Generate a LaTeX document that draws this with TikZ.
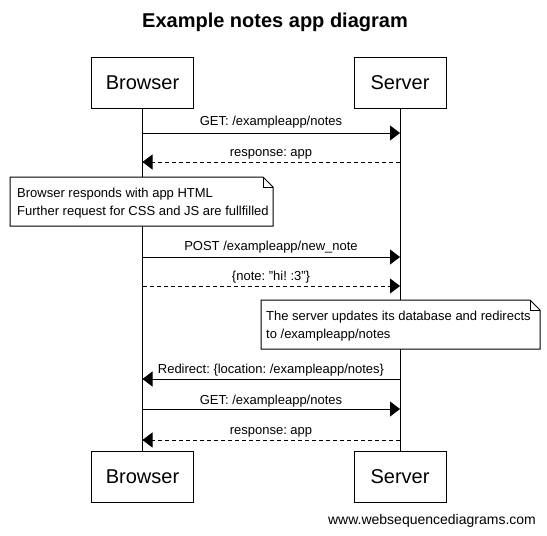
\documentclass[tikz,border=0pt]{standalone}
\usepackage{fontspec}
\setmainfont{Liberation Sans}
\usetikzlibrary{arrows.meta}
\frenchspacing
\begin{document}
\begin{tikzpicture}[x=1pt,y=-1pt,
  actor/.style={draw,line width=1pt,minimum height=51pt,font=\fontsize{20}{24}\selectfont,inner sep=0pt},
  lifeline/.style={line width=1pt},
  msg/.style={line width=1pt,-{Triangle[length=10pt,width=15pt]}},
  ret/.style={msg,dash pattern=on 4pt off 3pt},
  lbl/.style={font=\fontsize{13}{15}\selectfont,inner sep=0pt},
  notebox/.style={draw,line width=1pt,fill=white},
  notetext/.style={font=\fontsize{13}{18}\selectfont,align=left,inner sep=0pt,anchor=north west}
]
\useasboundingbox (0,0) rectangle (547,536);
\node[font=\bfseries\fontsize{20}{24}\selectfont] (title) at (275,22) {Example notes app diagram};
\node[actor, minimum width=102pt] (bt) at (142.5,82.5) {Browser};
\node[actor, minimum width=92pt] (st) at (400,82.5) {Server};
\node[actor, minimum width=102pt] (bb) at (142.5,477) {Browser};
\node[actor, minimum width=92pt] (sb) at (400,477) {Server};
\draw[lifeline] (bt) -- (bb);
\draw[lifeline] (st) -- (sb);
% lifeline points
\coordinate (b1) at (142.5,133); \coordinate (s1) at (400,133);
\coordinate (b2) at (142.5,162); \coordinate (s2) at (400,162);
\coordinate (b3) at (142.5,257); \coordinate (s3) at (400,257);
\coordinate (b4) at (142.5,286); \coordinate (s4) at (400,286);
\coordinate (b5) at (142.5,379); \coordinate (s5) at (400,379);
\coordinate (b6) at (142.5,409); \coordinate (s6) at (400,409);
\coordinate (b7) at (142.5,440); \coordinate (s7) at (400,440);
% messages
\draw[msg] (b1) -- (s1);
\node[lbl] (l1) at (271,122) {GET: /exampleapp/notes};
\draw[ret] (s2) -- (b2);
\node[lbl] (l2) at (271,154) {response: app};
% note 1
\draw[notebox] (10,177) -- (263,177) -- (273,187) -- (273,226) -- (10,226) -- cycle;
\draw[line width=1pt] (263,177) -- (263,187) -- (273,187);
\node[notetext] (n1) at (17,188) {Browser responds with app HTML\\Further request for CSS and JS are fullfilled};
\draw[msg] (b3) -- (s3);
\node[lbl] (l3) at (271,247) {POST /exampleapp/new\_note};
\draw[ret] (b4) -- (s4);
\node[lbl] (l4) at (271,277) {\{note: "hi! :3"\}};
% note 2
\draw[notebox] (261,300) -- (530,300) -- (540,310) -- (540,349) -- (261,349) -- cycle;
\draw[line width=1pt] (530,300) -- (530,310) -- (540,310);
\node[notetext] (n2) at (266,311) {The server updates its database and redirects\\to /exampleapp/notes};
\draw[msg] (s5) -- (b5);
\node[lbl] (l5) at (271,370) {Redirect: \{location: /exampleapp/notes\}};
\draw[msg] (b6) -- (s6);
\node[lbl] (l6) at (271,401) {GET: /exampleapp/notes};
\draw[ret] (s7) -- (b7);
\node[lbl] (l7) at (271,432) {response: app};
\node[font=\fontsize{14}{16}\selectfont,inner sep=0pt] (footer) at (432,521) {www.websequencediagrams.com};
\end{tikzpicture}
\end{document}
